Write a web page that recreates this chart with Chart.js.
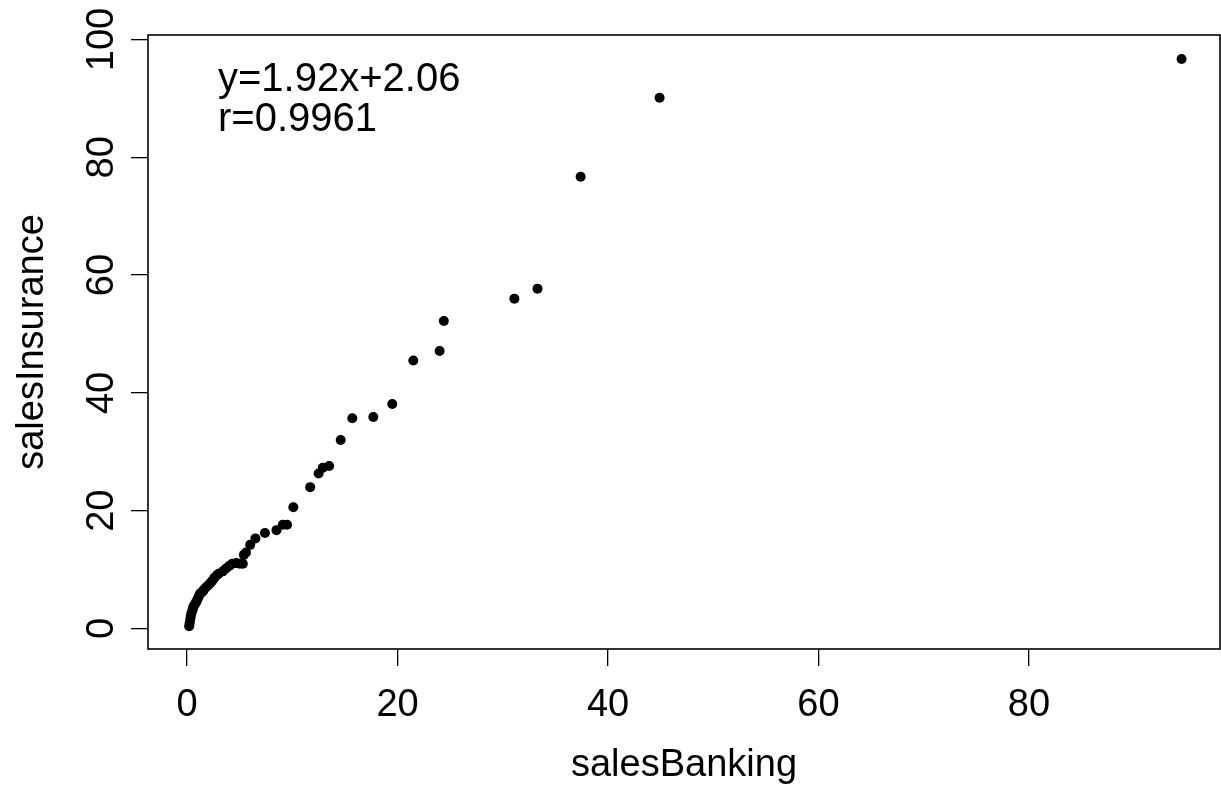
<!DOCTYPE html>
<html>
<head>
<meta charset="utf-8">
<title>salesInsurance vs salesBanking</title>
<script src="https://cdn.jsdelivr.net/npm/chart.js@4/dist/chart.umd.min.js"></script>
<style>
  html, body { margin: 0; background: #fff; }
  #wrap { width: 1221px; height: 800px; }
</style>
</head>
<body>
<div id="wrap"><canvas id="scatter"></canvas></div>
<script>
const salesBanking = [
  0.2, 0.25, 0.3, 0.35, 0.4, 0.5, 0.55, 0.6, 0.7, 0.8,
  0.9, 1.0, 1.1, 1.2, 1.3, 1.5, 1.6, 1.8, 2.0, 2.2,
  2.4, 2.6, 2.8, 3.0, 3.4, 3.7, 4.0, 4.3, 4.7, 5.0,
  5.3, 5.4, 5.6, 6.0, 6.5, 7.4, 8.5, 9.1, 9.5, 10.1,
  11.7, 12.5, 12.9, 13.5, 14.6, 15.7, 17.7, 19.5, 21.5, 24.0,
  24.4, 31.1, 33.3, 37.4, 44.9, 94.5,
];
const salesInsurance = [
  0.4, 0.9, 1.5, 2.0, 2.5, 3.0, 3.3, 3.7, 4.0, 4.3,
  4.6, 5.0, 5.4, 5.8, 6.0, 6.3, 6.6, 7.0, 7.3, 7.7,
  8.1, 8.6, 9.0, 9.3, 9.7, 10.2, 10.6, 11.0, 11.1, 11.0,
  11.0, 12.5, 12.9, 14.2, 15.3, 16.2, 16.7, 17.6, 17.6, 20.6,
  24.0, 26.3, 27.3, 27.6, 32.0, 35.7, 35.9, 38.1, 45.5, 47.1,
  52.2, 56.0, 57.7, 76.7, 90.1, 96.7,
];
const xTicks = [0, 20, 40, 60, 80];
const yTicks = [0, 20, 40, 60, 80, 100];
const fitLines = ['y=1.92x+2.06', 'r=0.9961'];

const FONT = '"Liberation Sans", Arial, Helvetica, sans-serif';
const INK = '#000';

// R-style frame: closed box, y labels parallel to the axis, fit note top-left
const rFrame = {
  id: 'rFrame',
  afterDraw(chart) {
    const { ctx, chartArea: a, scales } = chart;
    ctx.save();
    ctx.strokeStyle = INK;
    ctx.lineWidth = 1.6;
    ctx.strokeRect(a.left, a.top, a.right - a.left, a.bottom - a.top);

    ctx.fillStyle = INK;
    ctx.font = `38px ${FONT}`;
    ctx.textAlign = 'center';
    ctx.textBaseline = 'alphabetic';
    yTicks.forEach((v) => {
      ctx.save();
      ctx.translate(scales.y.right - 35, scales.y.getPixelForValue(v));
      ctx.rotate(-Math.PI / 2);
      ctx.fillText(String(v), 0, 0);
      ctx.restore();
    });

    ctx.font = `40px ${FONT}`;
    ctx.textAlign = 'left';
    fitLines.forEach((t, i) => ctx.fillText(t, a.left + 70, a.top + 56 + i * 40));
    ctx.restore();
  },
};

new Chart(document.getElementById('scatter'), {
  type: 'scatter',
  data: {
    datasets: [{
      data: salesBanking.map((x, i) => ({ x, y: salesInsurance[i] })),
      backgroundColor: INK,
      borderWidth: 0,
      pointRadius: 5,
      pointHoverRadius: 5,
    }],
  },
  options: {
    responsive: true,
    maintainAspectRatio: false,
    animation: false,
    layout: { autoPadding: false, padding: { top: 35, right: 1 } },
    plugins: { legend: { display: false }, tooltip: { enabled: false } },
    scales: {
      x: {
        min: -3.71,
        max: 98.15,
        afterBuildTicks: (s) => { s.ticks = xTicks.map((value) => ({ value })); },
        afterFit: (s) => { s.height = 151; },
        grid: { drawOnChartArea: false, tickLength: 17, color: INK, lineWidth: 1.3 },
        border: { display: false },
        ticks: { color: INK, font: { family: FONT, size: 38 }, padding: 17, maxRotation: 0 },
        title: { display: true, text: 'salesBanking', color: INK, font: { family: FONT, size: 38 }, padding: { bottom: 12 } },
      },
      y: {
        min: -3.48,
        max: 100.76,
        afterBuildTicks: (s) => { s.ticks = yTicks.map((value) => ({ value })); },
        afterFit: (s) => { s.width = 148; },
        grid: { drawOnChartArea: false, tickLength: 17, color: INK, lineWidth: 1.3 },
        border: { display: false },
        ticks: { display: false },
        title: { display: true, text: 'salesInsurance', color: INK, font: { family: FONT, size: 38 }, padding: { top: 10 } },
      },
    },
  },
  plugins: [rFrame],
});
</script>
</body>
</html>
